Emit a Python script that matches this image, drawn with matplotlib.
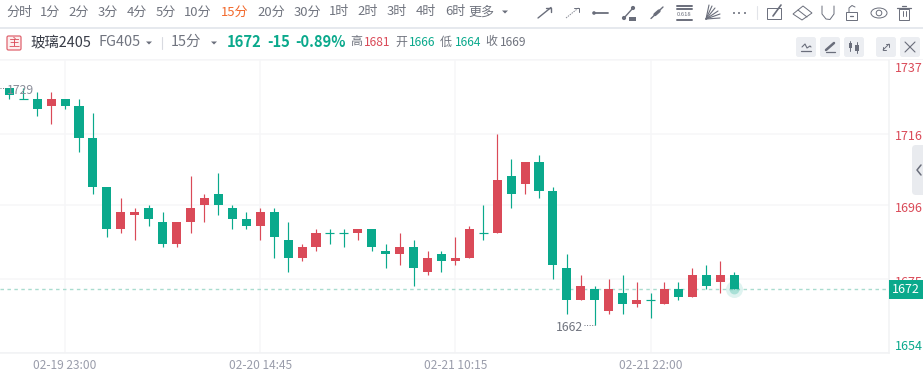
import matplotlib
matplotlib.use('Agg')
import matplotlib.pyplot as plt
from matplotlib.patches import Rectangle, FancyBboxPatch, Circle, Ellipse, Polygon

plt.rcParams['font.family'] = ['Noto Sans CJK SC', 'DejaVu Sans']

# candles
opens = [1729, 1726, 1726, 1724, 1726, 1724, 1715, 1701, 1689, 1693, 1695, 1691, 1685, 1691, 1696,
         1699, 1695, 1692, 1690, 1694, 1686, 1681, 1684, 1688, 1688, 1688, 1689, 1683, 1682, 1684,
         1677, 1682, 1680, 1681, 1688, 1688, 1704, 1702, 1708, 1700, 1678, 1669, 1672, 1666, 1671,
         1668, 1669, 1668, 1672, 1670, 1676, 1674, 1676]
closes = [1727, 1726, 1723, 1726, 1724, 1715, 1701, 1689, 1694, 1694, 1692, 1685, 1691, 1695, 1698,
          1696, 1692, 1690, 1694, 1687, 1681, 1684, 1688, 1688, 1688, 1689, 1684, 1682, 1684, 1678,
          1681, 1680, 1681, 1689, 1688, 1703, 1699, 1708, 1700, 1679, 1669, 1673, 1669, 1672, 1668,
          1669, 1669, 1672, 1670, 1676, 1673, 1676, 1672]
highs = [1729, 1729, 1728, 1728, 1726, 1726, 1722, 1701, 1698, 1695, 1696, 1694, 1691, 1704, 1699,
         1705, 1696, 1694, 1695, 1695, 1691, 1685, 1689, 1689, 1689, 1689, 1689, 1685, 1688, 1686,
         1683, 1683, 1687, 1690, 1696, 1716, 1709, 1708, 1710, 1701, 1682, 1676, 1673, 1675, 1676,
         1674, 1671, 1674, 1674, 1678, 1679, 1680, 1677]
lows = [1726, 1726, 1721, 1719, 1723, 1711, 1699, 1687, 1688, 1686, 1690, 1684, 1684, 1688, 1691,
        1693, 1689, 1689, 1686, 1681, 1677, 1680, 1683, 1685, 1684, 1686, 1683, 1678, 1679, 1673,
        1676, 1677, 1679, 1681, 1686, 1688, 1695, 1699, 1698, 1675, 1665, 1669, 1662, 1665, 1665,
        1667, 1664, 1668, 1669, 1670, 1672, 1671, 1672]
# doji candles that the source draws green
green_doji = [1, 23, 24, 34, 46]

price_ticks = [1737, 1716, 1696, 1675, 1654]
time_ticks = [4, 18, 32, 46]
time_labels = ['02-19 23:00', '02-20 14:45', '02-21 10:15', '02-21 22:00']
last_price = 1672
max_idx, max_price = 0, 1729
min_idx, min_price = 42, 1662

periods = ['分时', '1分', '2分', '3分', '4分', '5分', '10分', '15分', '20分', '30分',
           '1时', '2时', '3时', '4时', '6时', '更多']
period_x = [19, 50, 79, 108, 137, 166, 198, 235, 271, 307, 339, 368, 397, 426, 455, 481]

GREEN = '#0aa98c'
RED = '#da4a58'
GRID = '#f6f6f8'
ICON = '#6a6e7b'
TXT = '#70747f'

W, H = 923, 373
fig = plt.figure(figsize=(W / 100, H / 100), dpi=100, facecolor='white')

# main chart area
ax = fig.add_axes([0, 1 - 353 / H, 889 / W, 293 / H])
step = 13.94
ax.set_xlim(-9.3 / step, (889 - 9.3) / step)
ax.set_ylim(1654, 1737)
for s in ['top', 'left']:
    ax.spines[s].set_visible(False)
for s in ['right', 'bottom']:
    ax.spines[s].set_color('#f1f2f4')
    ax.spines[s].set_linewidth(1.1)
ax.set_xticks(time_ticks)
ax.set_xticklabels(time_labels, fontsize=8.6, color='#9a9dab')
ax.set_yticks(price_ticks)
ax.yaxis.tick_right()
ax.set_yticklabels([])
ax.tick_params(length=0, pad=4)
ax.grid(True, color=GRID, linewidth=1.1)
ax.set_axisbelow(True)

for i, (o, c, h, l) in enumerate(zip(opens, closes, highs, lows)):
    up = c > o or (c == o and i not in green_doji)
    col = RED if up else GREEN
    ax.plot([i, i], [l, h], color=col, linewidth=0.85, solid_capstyle='butt', zorder=3)
    if o == c:
        ax.plot([i - 0.32, i + 0.32], [o, o], color=col, linewidth=0.85, solid_capstyle='butt', zorder=3)
    else:
        ax.bar(i, abs(c - o), bottom=min(o, c), width=0.65, color=col, linewidth=0, zorder=3)

ax.axhline(last_price, color='#a9dccf', linewidth=1, linestyle=(0, (2.5, 2.5)), zorder=2)

# y labels, the library clamps them inside the plot so offsets differ
label_off = [-6, -1.5, -2.5, -2.5, 5]
label_col = [RED, RED, RED, RED, GREEN]
for p, off, col in zip(price_ticks, label_off, label_col):
    ax.annotate(str(p), xy=(1, p), xycoords=('axes fraction', 'data'), xytext=(4.5, off),
                textcoords='offset points', fontsize=9, color=col, va='center', annotation_clip=False)

# max and min marks
ax.annotate(str(max_price), xy=(max_idx, max_price), xytext=(-1.7, -1.5), textcoords='offset points',
            fontsize=8.8, color='#8a8d99', va='center', zorder=5, annotation_clip=False)
ax.plot([-0.66, -0.25], [max_price, max_price], color=TXT, linewidth=0.7, linestyle=':', zorder=4)
ax.annotate(str(min_price), xy=(min_idx, min_price), xytext=(-8.6, -2), textcoords='offset points',
            fontsize=8.8, color=TXT, ha='right', va='center', zorder=5)
ax.plot([min_idx - 0.78, min_idx], [min_price, min_price], color=TXT, linewidth=0.7, linestyle=':', zorder=4)

# glow on the last candle
ax.scatter([len(opens) - 1], [last_price], s=150, color=GREEN, alpha=0.13, linewidth=0, zorder=2)
ax.scatter([len(opens) - 1], [last_price], s=50, color=GREEN, alpha=0.25, linewidth=0, zorder=2)

# overlay in pixels for toolbar and buttons
ui = fig.add_axes([0, 0, 1, 1], facecolor='none')
ui.set_xlim(0, W)
ui.set_ylim(H, 0)
ui.axis('off')


def line(x, y, col=ICON, lw=1.0, **kw):
    ui.plot(x, y, color=col, linewidth=lw, solid_capstyle='round', **kw)


def caret(x, y, col=ICON):
    ui.add_patch(Polygon([(x - 3, y - 1.5), (x + 3, y - 1.5), (x, y + 1.5)], fc=col, ec='none'))


for name, x in zip(periods, period_x):
    ui.text(x, 12, name, fontsize=9.4, color='#f2692c' if name == '15分' else TXT, ha='center', va='center')
caret(505, 12)

ui.add_patch(Rectangle((0, 27), W, 2, fc='#e6e9ee', ec='none'))
ui.add_patch(Rectangle((0, 59), W, 1, fc='#f5f5f7', ec='none'))

# header row
ui.add_patch(FancyBboxPatch((7, 36), 14, 14, boxstyle='round,pad=0,rounding_size=1.5', fc='#fdeeee', ec='#e0646f', lw=0.9))
ui.text(14, 43, '主', fontsize=8, color=RED, ha='center', va='center')
ui.text(30, 42, '玻璃2405', fontsize=10.4, color='#383c47', va='center')
ui.text(98, 42, 'FG405', fontsize=10.4, color=TXT, va='center')
caret(149, 43)
line([162, 162], [37, 49], '#d8dae0', 0.8)
ui.text(171, 42, '15分', fontsize=10.4, color=TXT, va='center')
caret(214, 43)
ui.text(227, 42, '1672', fontsize=10.6, color=GREEN, fontweight='bold', va='center')
ui.text(267, 42, '-15', fontsize=10.6, color=GREEN, fontweight='bold', va='center')
ui.text(295, 42, '-0.89%', fontsize=10.6, color=GREEN, fontweight='bold', va='center')
ohlc = [('高', 350, '1681', 364, RED), ('开', 395, '1666', 409, GREEN),
        ('低', 440, '1664', 455, GREEN), ('收', 485, '1669', 500, TXT)]
for lab, lx, val, vx, col in ohlc:
    ui.text(lx, 42, lab, fontsize=8.6, color=TXT, va='center')
    ui.text(vx, 42, val, fontsize=8.6, color=col, va='center')

# drawing tool icons
line([538, 551], [18, 7.5])
line([546, 551, 551], [7.5, 7.5, 12])
line([566, 579], [18, 7.5], lw=0.7, linestyle=(0, (1.5, 1)), alpha=0.8)
line([574, 579, 579], [7.5, 7.5, 12], lw=0.7)
line([594, 608], [13, 13], lw=1.3)
ui.add_patch(Circle((594, 13), 1.8, fc=ICON, ec='none'))
line([624, 633], [18, 8], lw=1.0)
ui.add_patch(Circle((624, 18), 2.1, fc=ICON, ec='none'))
ui.add_patch(Circle((633, 8), 2.1, fc=ICON, ec='none'))
ui.add_patch(Rectangle((629, 17), 7, 3.5, fc=ICON, ec='none'))
line([651, 663], [18.5, 7])
line([655, 659], [14.5, 11], lw=2.4)
for y0 in [5.5, 9, 20]:
    line([677, 692], [y0, y0], lw=1.4)
ui.text(684.5, 14.5, '0.618', fontsize=4.2, color=ICON, ha='center', va='center')
for xe, ye in [(709, 5), (712, 6), (715, 8), (718, 11), (720, 14), (720, 18)]:
    line([706, xe], [19, ye], lw=0.8)
for x in [734, 739, 745]:
    ui.add_patch(Circle((x, 13), 1, fc=ICON, ec='none'))
line([757, 757], [6, 19], '#e2e4e9', 0.8)
ui.add_patch(Rectangle((767, 8), 14, 11, fc='none', ec=ICON, lw=0.7))
line([773, 781], [16, 5], lw=1.2)
ui.add_patch(Polygon([(793, 14), (803, 6), (812, 13), (802, 20)], fc='none', ec=ICON, lw=0.7))
line([798, 807], [10, 17], lw=0.7)
line([822, 822, 826, 830, 834, 834], [6, 14, 19, 19.5, 14, 6], lw=0.7)
ui.add_patch(Rectangle((846, 12), 11, 8, fc='none', ec=ICON, lw=0.7))
line([849, 849, 852, 855], [12, 8, 5.5, 7], lw=0.7)
line([850, 853], [16, 16], lw=0.9)
ui.add_patch(Ellipse((879, 13), 16, 10, fc='none', ec=ICON, lw=0.7))
ui.add_patch(Circle((879, 13), 2.8, fc='none', ec=ICON, lw=0.7))
ui.add_patch(Rectangle((899, 9), 10, 11, fc='none', ec=ICON, lw=0.7))
line([897, 911], [8, 8], lw=0.9)
line([902, 906], [6, 6], lw=0.9)
line([902.5, 902.5], [11, 16], lw=0.7)
line([905.5, 905.5], [11, 16], lw=0.7)

# small buttons on the right
for x0 in [796, 820, 844, 876, 900]:
    ui.add_patch(FancyBboxPatch((x0, 37), 20, 20, boxstyle='round,pad=0,rounding_size=2.5', fc='#eceef2', ec='none'))
line([802, 805, 807, 810, 811], [47, 44, 48, 46, 47], lw=0.8)
line([801, 811], [51, 51], lw=0.9)
line([826, 834], [50, 43], lw=1.8)
line([826, 835], [52, 52], lw=0.9)
line([850, 850], [41, 51], lw=0.7)
ui.add_patch(Rectangle((848.5, 43), 3, 5, fc=ICON, ec='none'))
line([857, 857], [42, 53], lw=0.7)
ui.add_patch(Rectangle((855, 45), 4, 6, fc=ICON, ec='none'))
line([883, 889], [50, 44], lw=0.7)
line([886, 889, 889], [44, 44, 47], lw=0.7)
line([883, 883, 886], [47, 50, 50], lw=0.7)
line([905, 915], [42, 52], lw=0.8)
line([905, 915], [52, 42], lw=0.8)

# side handle
ui.add_patch(FancyBboxPatch((912, 145), 14, 50, boxstyle='round,pad=0,rounding_size=4', fc='#e9ebef', ec='none'))
line([921, 917, 921], [165, 170, 175], lw=1.1)

# last price tag
ui.add_patch(Rectangle((889, 280), 34, 18.5, fc=GREEN, ec='none', zorder=6))
ui.text(906, 289.5, str(last_price), fontsize=9, color='white', fontweight='medium', ha='center', va='center', zorder=7)

fig.savefig('out.png', dpi=100, facecolor='white')
